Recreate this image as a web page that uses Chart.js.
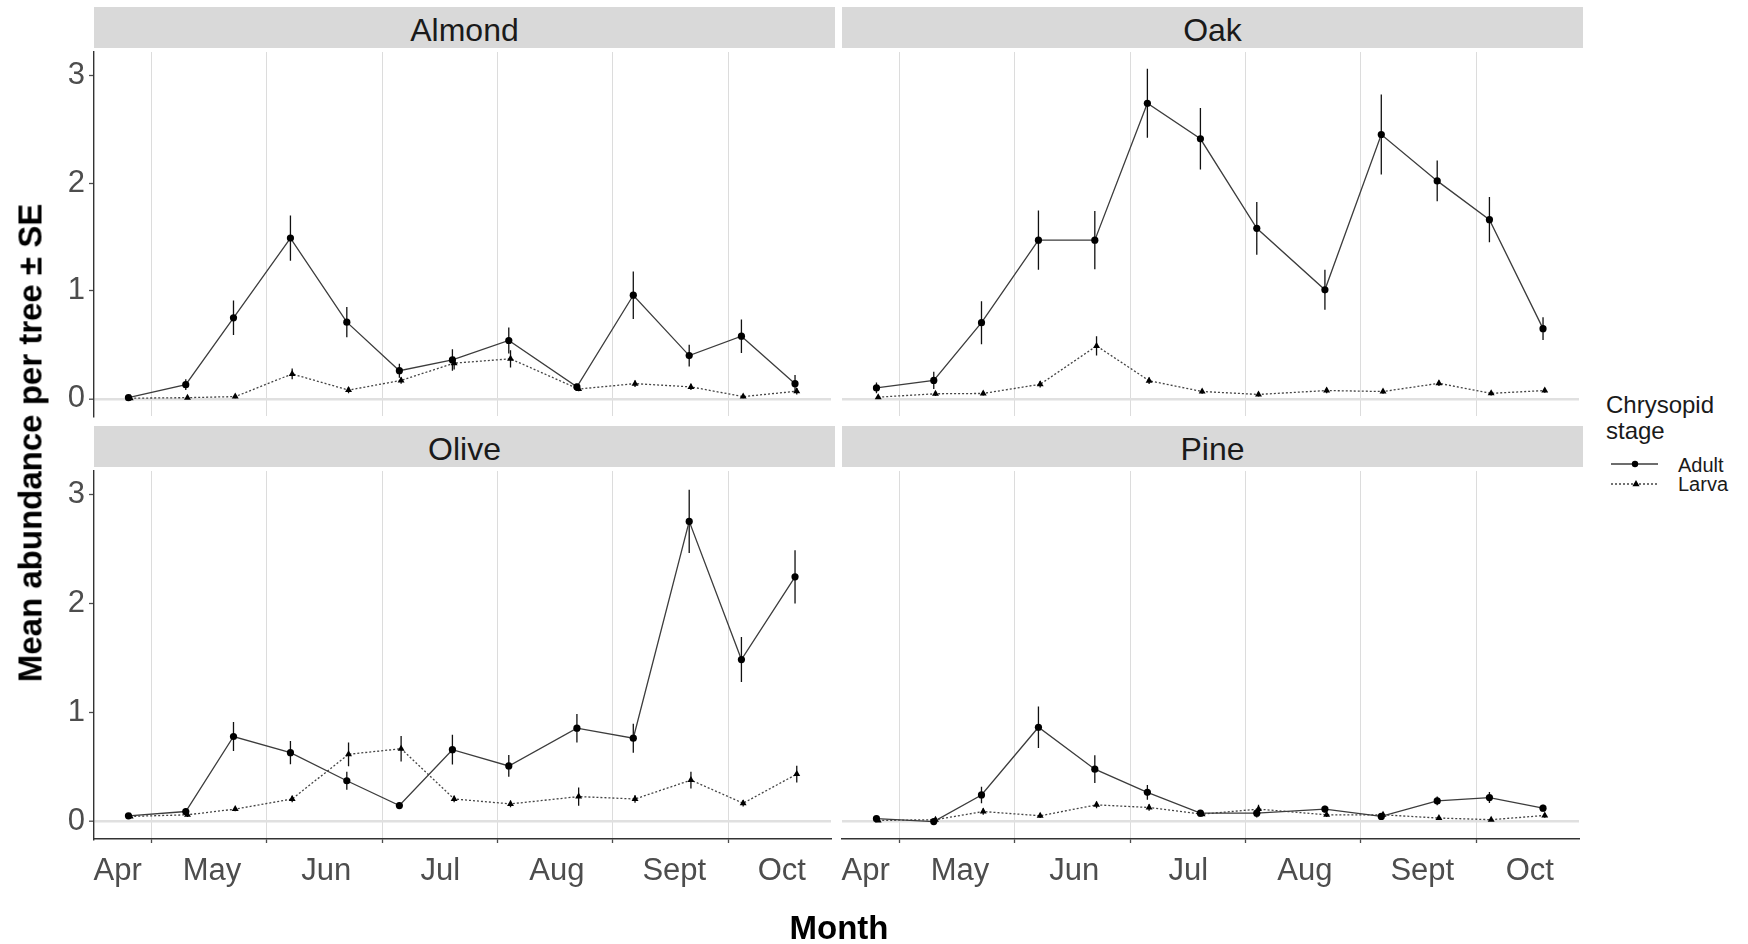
<!DOCTYPE html>
<html>
<head>
<meta charset="utf-8">
<script src="https://cdn.jsdelivr.net/npm/chart.js@4.4.1/dist/chart.umd.min.js"></script>
<style>
  html, body { margin: 0; padding: 0; background: #fff; }
  body { width: 1748px; height: 944px; position: relative; overflow: hidden;
         font-family: "Liberation Sans", Arial, Helvetica, sans-serif; }
  canvas.panel { position: absolute; }
  .strip { position: absolute; width: 741px; height: 41px; background: #D9D9D9; color: #1A1A1A;
           font-size: 32px; line-height: 46px; text-align: center; white-space: nowrap; }
  .axis-title { position: absolute; font-weight: bold; font-size: 33px; line-height: 33px;
                color: #000; white-space: nowrap; transform: translate(-50%, -50%); }
  .legend-text { position: absolute; color: #1A1A1A; white-space: nowrap; }
</style>
</head>
<body>

<div class="strip" style="left:94px; top:7px;">Almond</div>
<div class="strip" style="left:842px; top:7px;">Oak</div>
<div class="strip" style="left:94px; top:426px;">Olive</div>
<div class="strip" style="left:842px; top:426px;">Pine</div>

<canvas id="almond" class="panel" width="835" height="372" style="left:0px; top:48px;"></canvas>
<canvas id="oak" class="panel" width="771" height="372" style="left:812px; top:48px;"></canvas>
<canvas id="olive" class="panel" width="835" height="477" style="left:0px; top:467px;"></canvas>
<canvas id="pine" class="panel" width="771" height="477" style="left:812px; top:467px;"></canvas>

<div class="axis-title" style="left:30px; top:443px; transform: translate(-50%, -50%) rotate(-90deg);">Mean abundance per tree ± SE</div>
<div class="axis-title" style="left:839px; top:927px;">Month</div>

<div class="legend-text" style="left:1606px; top:393px; font-size:24px; line-height:24px;">Chrysopid</div>
<div class="legend-text" style="left:1606px; top:419px; font-size:24px; line-height:24px;">stage</div>
<svg style="position:absolute; left:1606px; top:454px;" width="58" height="40">
  <line x1="5" y1="10" x2="52" y2="10" stroke="#3C3C3C" stroke-width="1.3"/>
  <circle cx="29" cy="10" r="3.2" fill="#000"/>
  <line x1="5" y1="30" x2="52" y2="30" stroke="#444" stroke-width="1.3" stroke-dasharray="2,2"/>
  <polygon points="30,26 33.6,32.2 26.4,32.2" fill="#000"/>
</svg>
<div class="legend-text" style="left:1678px; top:455px; font-size:20px; line-height:20px;">Adult</div>
<div class="legend-text" style="left:1678px; top:474px; font-size:20px; line-height:20px;">Larva</div>

<script>
// Sampling dates expressed in month units (5 = 1 May, 6 = 1 June, ...)
const sampleTimes = [4.799, 5.296, 5.710, 6.204, 6.693, 7.149, 7.609, 8.098, 8.689, 9.178, 9.663, 10.116, 10.581];

// Month labels and where they sit on the month axis
const monthLabels = ['Apr', 'May', 'Jun', 'Jul', 'Aug', 'Sept', 'Oct'];
const monthLabelPos = [4.705, 5.523, 6.514, 7.504, 8.515, 9.534, 10.466];
const monthStarts = [5, 6, 7, 8, 9, 10];
const yTicks = [0, 1, 2, 3];

// Mean chrysopid abundance per tree and its standard error, per host tree
const almondAdult   = [0.01, 0.13, 0.75, 1.49, 0.71, 0.26, 0.36, 0.54, 0.11, 0.96, 0.40, 0.58, 0.14];
const almondAdultSE = [0.01, 0.05, 0.16, 0.21, 0.14, 0.065, 0.10, 0.12, 0.03, 0.22, 0.10, 0.155, 0.08];
const almondLarva   = [0.005, 0.01, 0.02, 0.23, 0.08, 0.17, 0.33, 0.37, 0.09, 0.14, 0.11, 0.02, 0.07];
const almondLarvaSE = [0.005, 0.01, 0.015, 0.05, 0.03, 0.03, 0.06, 0.08, 0.02, 0.03, 0.03, 0.015, 0.03];

const oakAdult   = [0.10, 0.17, 0.705, 1.47, 1.47, 2.74, 2.41, 1.58, 1.01, 2.45, 2.02, 1.66, 0.65];
const oakAdultSE = [0.05, 0.08, 0.20, 0.275, 0.27, 0.32, 0.285, 0.245, 0.185, 0.37, 0.19, 0.21, 0.105];
const oakLarva   = [0.015, 0.046, 0.049, 0.134, 0.49, 0.167, 0.067, 0.04, 0.076, 0.067, 0.143, 0.05, 0.076];
const oakLarvaSE = [0.01, 0.02, 0.02, 0.03, 0.09, 0.03, 0.02, 0.02, 0.025, 0.02, 0.025, 0.02, 0.02];

const oliveAdult   = [0.053, 0.092, 0.78, 0.632, 0.374, 0.147, 0.659, 0.51, 0.856, 0.765, 2.753, 1.486, 2.244];
const oliveAdultSE = [0.02, 0.03, 0.133, 0.106, 0.083, 0.03, 0.136, 0.10, 0.13, 0.133, 0.29, 0.207, 0.245];
const oliveLarva   = [0.047, 0.062, 0.114, 0.207, 0.617, 0.668, 0.207, 0.162, 0.229, 0.207, 0.38, 0.168, 0.435];
const oliveLarvaSE = [0.01, 0.02, 0.02, 0.03, 0.109, 0.117, 0.03, 0.03, 0.083, 0.035, 0.076, 0.03, 0.076];

const pineAdult   = [0.026, 0.0, 0.244, 0.865, 0.48, 0.268, 0.077, 0.077, 0.114, 0.047, 0.189, 0.22, 0.123];
const pineAdultSE = [0.02, 0.01, 0.076, 0.19, 0.127, 0.068, 0.03, 0.04, 0.03, 0.02, 0.04, 0.05, 0.03];
const pineLarva   = [0.01, 0.017, 0.092, 0.053, 0.153, 0.129, 0.068, 0.114, 0.062, 0.062, 0.032, 0.017, 0.056];
const pineLarvaSE = [0.01, 0.01, 0.03, 0.02, 0.03, 0.03, 0.02, 0.04, 0.02, 0.02, 0.01, 0.01, 0.02];

const X_MIN = 4.5, X_MAX = 10.893;
const Y_MIN = -0.16, Y_MAX = 3.215;
const LARVA_DODGE = 0.015;
const TICK_TEXT = '#4D4D4D';
const AXIS_LINE = '#333333';
const FONT = '"Liberation Sans", Arial, Helvetica, sans-serif';

Chart.defaults.font.family = FONT;

function points(vals, dx) {
  return vals.map((v, i) => ({ x: sampleTimes[i] + dx, y: v }));
}

// Each error bar is a two-point segment; a null point separates segments
function errorBars(vals, se, dx) {
  const out = [];
  vals.forEach((v, i) => {
    const x = sampleTimes[i] + dx;
    out.push({ x, y: v - se[i] }, { x, y: v + se[i] }, { x, y: null });
  });
  return out;
}

function facet(id, adult, adultSE, larva, larvaSE, showY, showX) {
  const datasets = [
    { label: 'Adult SE', data: errorBars(adult, adultSE, 0), borderColor: '#111', borderWidth: 1.3,
      pointRadius: 0, spanGaps: false, order: 3 },
    { label: 'Larva SE', data: errorBars(larva, larvaSE, LARVA_DODGE), borderColor: '#111', borderWidth: 1.3,
      pointRadius: 0, spanGaps: false, order: 4 },
    { label: 'Adult', data: points(adult, 0), borderColor: '#3C3C3C', borderWidth: 1.3,
      pointStyle: 'circle', pointRadius: 3.6, pointBackgroundColor: '#000', pointBorderWidth: 0, order: 1 },
    { label: 'Larva', data: points(larva, LARVA_DODGE), borderColor: '#444', borderWidth: 1.3, borderDash: [2, 2],
      pointStyle: 'triangle', pointRadius: 4, pointBackgroundColor: '#000', pointBorderWidth: 0, order: 2 }
  ];

  const tickFont = { size: 31, family: FONT };

  return new Chart(document.getElementById(id), {
    type: 'line',
    data: { datasets },
    options: {
      responsive: false,
      animation: false,
      events: [],
      layout: { padding: { left: showY ? 0 : 30, right: 0, top: 0, bottom: 0 } },
      elements: { line: { tension: 0 } },
      plugins: { legend: { display: false }, tooltip: { enabled: false } },
      scales: {
        x: {
          type: 'linear', position: 'bottom', weight: 0, min: X_MIN, max: X_MAX,
          afterBuildTicks: s => { s.ticks = monthStarts.map(v => ({ value: v })); },
          afterFit: s => { s.paddingLeft = 0; s.paddingRight = 0; },
          ticks: { display: false },
          grid: { color: '#DCDCDC', lineWidth: 1, drawTicks: showX, tickLength: 4,
                  tickColor: TICK_TEXT, tickWidth: 1.3 },
          border: { display: showX, color: AXIS_LINE, width: 1.4 }
        },
        xl: {
          type: 'linear', axis: 'x', position: 'bottom', weight: 1, display: showX,
          min: X_MIN, max: X_MAX,
          afterBuildTicks: s => { s.ticks = monthLabelPos.map(v => ({ value: v })); },
          afterFit: s => {
            s.height = showX ? 101 : 0;
            s.paddingLeft = 0; s.paddingRight = 0;
          },
          ticks: { autoSkip: false, maxRotation: 0, minRotation: 0, padding: 10, color: TICK_TEXT,
                   font: tickFont, callback: (v, i) => monthLabels[i] },
          grid: { display: false, drawTicks: false },
          border: { display: false }
        },
        y: {
          type: 'linear', min: Y_MIN, max: Y_MAX,
          afterBuildTicks: s => { s.ticks = yTicks.map(v => ({ value: v })); },
          afterFit: s => {
            s.width = showY ? 94 : 0;
            s.paddingTop = 0; s.paddingBottom = 0;
          },
          ticks: { display: showY, padding: 4, color: TICK_TEXT, font: tickFont },
          grid: {
            color: c => (c.tick && c.tick.value === 0) ? '#E0E0E0' : 'rgba(0,0,0,0)',
            lineWidth: c => (c.tick && c.tick.value === 0) ? 2.4 : 1,
            drawTicks: showY, tickLength: 5, tickColor: TICK_TEXT, tickWidth: 1.3
          },
          border: { display: showY, color: AXIS_LINE, width: 1.4 }
        }
      }
    }
  });
}

facet('almond', almondAdult, almondAdultSE, almondLarva, almondLarvaSE, true, false);
facet('oak', oakAdult, oakAdultSE, oakLarva, oakLarvaSE, false, false);
facet('olive', oliveAdult, oliveAdultSE, oliveLarva, oliveLarvaSE, true, true);
facet('pine', pineAdult, pineAdultSE, pineLarva, pineLarvaSE, false, true);
</script>
</body>
</html>
